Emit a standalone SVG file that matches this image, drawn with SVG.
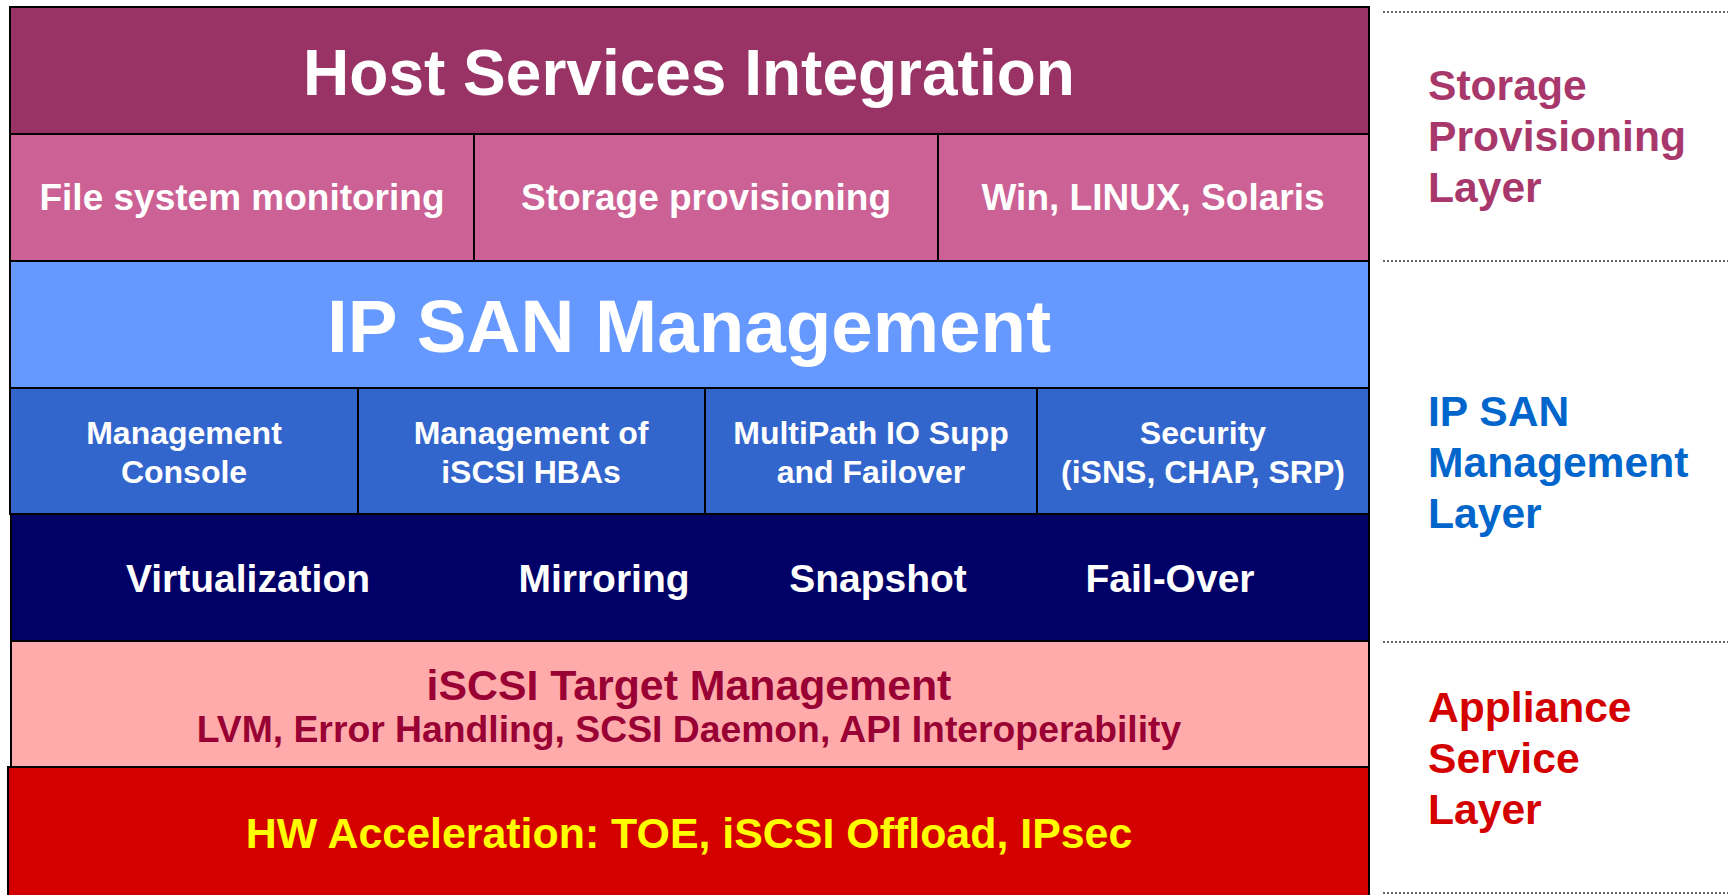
<svg xmlns="http://www.w3.org/2000/svg" width="1736" height="895" viewBox="0 0 1736 895">
<style>
.box{stroke:#000;stroke-width:2}
text{font-family:"Liberation Sans",Arial,sans-serif;font-weight:bold;text-anchor:middle}
.w{fill:#fff}
.lbl{text-anchor:start;font-size:42.6px}
.dot{stroke:#333;stroke-width:1.6;stroke-dasharray:2 2;fill:none}
</style>
<rect width="1736" height="895" fill="#fff"/>
<g id="host-services">
<rect class="box" x="10" y="7" width="1359" height="127" fill="#993366"/>
<text class="w" x="689" y="95" font-size="64">Host Services Integration</text>
</g>
<g id="host-sub">
<rect class="box" x="10" y="134" width="464" height="127" fill="#cc6195"/>
<rect class="box" x="474" y="134" width="464" height="127" fill="#cc6195"/>
<rect class="box" x="938" y="134" width="431" height="127" fill="#cc6195"/>
<text class="w" x="242" y="210" font-size="37">File system monitoring</text>
<text class="w" x="706" y="210" font-size="37">Storage provisioning</text>
<text class="w" x="1153" y="210" font-size="37">Win, LINUX, Solaris</text>
</g>
<g id="ipsan">
<rect class="box" x="10" y="261" width="1359" height="127" fill="#6699ff"/>
<text class="w" x="689" y="352" font-size="74.6">IP SAN Management</text>
</g>
<g id="mgmt-sub">
<rect class="box" x="10" y="388" width="348" height="126" fill="#3366cc"/>
<rect class="box" x="358" y="388" width="347" height="126" fill="#3366cc"/>
<rect class="box" x="705" y="388" width="332" height="126" fill="#3366cc"/>
<rect class="box" x="1037" y="388" width="332" height="126" fill="#3366cc"/>
<text class="w" font-size="32"><tspan x="184" y="444">Management</tspan><tspan x="184" y="483">Console</tspan></text>
<text class="w" font-size="32"><tspan x="531" y="444">Management of</tspan><tspan x="531" y="483">iSCSI HBAs</tspan></text>
<text class="w" font-size="32"><tspan x="871" y="444">MultiPath IO Supp</tspan><tspan x="871" y="483">and Failover</tspan></text>
<text class="w" font-size="32"><tspan x="1203" y="444">Security</tspan><tspan x="1203" y="483">(iSNS, CHAP, SRP)</tspan></text>
</g>
<g id="services">
<rect class="box" x="11" y="514" width="1358" height="127" fill="#000066"/>
<text class="w" x="248" y="592" font-size="39">Virtualization</text>
<text class="w" x="604" y="592" font-size="39">Mirroring</text>
<text class="w" x="878" y="592" font-size="39">Snapshot</text>
<text class="w" x="1170" y="592" font-size="39">Fail-Over</text>
</g>
<g id="iscsi-target">
<rect class="box" x="11" y="641" width="1358" height="126" fill="#ffabab"/>
<text x="689" y="700" font-size="42.8" fill="#990033">iSCSI Target Management</text>
<text x="689" y="742" font-size="37.3" fill="#990033">LVM, Error Handling, SCSI Daemon, API Interoperability</text>
</g>
<g id="hw-accel">
<rect class="box" x="8" y="767" width="1361" height="130" fill="#d40000"/>
<text x="689" y="848" font-size="42.9" fill="#ffff00">HW Acceleration: TOE, iSCSI Offload, IPsec</text>
</g>
<g id="connectors">
<line class="dot" x1="1383" y1="12" x2="1728" y2="12"/>
<line class="dot" x1="1383" y1="261" x2="1728" y2="261"/>
<line class="dot" x1="1383" y1="642" x2="1728" y2="642"/>
<line class="dot" x1="1383" y1="893" x2="1728" y2="893"/>
</g>
<g id="layer-storage">
<text class="lbl" fill="#a8386c"><tspan x="1428" y="100">Storage</tspan><tspan x="1428" y="151">Provisioning</tspan><tspan x="1428" y="202">Layer</tspan></text>
</g>
<g id="layer-ipsan">
<text class="lbl" fill="#0066cc"><tspan x="1428" y="426">IP SAN</tspan><tspan x="1428" y="477">Management</tspan><tspan x="1428" y="528">Layer</tspan></text>
</g>
<g id="layer-appliance">
<text class="lbl" fill="#d40000"><tspan x="1428" y="722">Appliance</tspan><tspan x="1428" y="773">Service</tspan><tspan x="1428" y="824">Layer</tspan></text>
</g>
</svg>
